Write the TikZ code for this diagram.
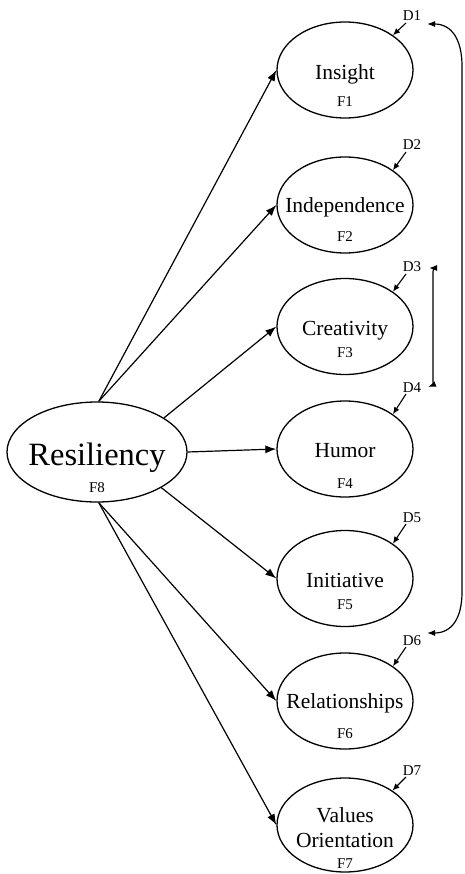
\documentclass[tikz,border=0pt]{standalone}
\usepackage{fontspec}
\setmainfont{Liberation Serif}
\usetikzlibrary{shapes.geometric,arrows.meta,calc}
\begin{document}
\begin{tikzpicture}[x=1pt,y=-1pt,
  lat/.style={ellipse,draw,line width=1.3pt,minimum width=136pt,minimum height=96pt,inner sep=0pt},
  big/.style={ellipse,draw,line width=1.3pt,minimum width=180pt,minimum height=100pt,inner sep=0pt},
  nm/.style={font=\fontsize{21.5}{24}\selectfont,inner sep=0pt,anchor=base},
  fl/.style={font=\fontsize{15}{17}\selectfont,inner sep=0pt,anchor=base},
  dl/.style={font=\fontsize{15}{17}\selectfont,inner sep=0pt,anchor=base},
  ar/.style={-{Latex[length=11pt,width=8pt]},line width=1.2pt},
  dar/.style={-{Latex[length=7pt,width=6pt]},line width=1.1pt},
  cor/.style={{Latex[length=8pt,width=6pt]}-{Latex[length=8pt,width=6pt]},line width=1.2pt}]
\useasboundingbox (0,0) rectangle (464,874);

% latent factors
\node[lat] (e1) at (345,70) {};
\node[lat] (e2) at (345,205) {};
\node[lat] (e3) at (345,326.5) {};
\node[lat] (e4) at (345,449) {};
\node[lat] (e5) at (345,578.5) {};
\node[lat] (e6) at (345,701) {};
\node[lat,minimum height=94pt] (e7) at (345,825) {};
\node[big] (res) at (97,452) {};

% texts
\node[nm] (t1) at (345,80) {Insight};
\node[fl] (f1) at (345,107) {F1};
\node[nm] (t2) at (345,213) {Independence};
\node[fl] (f2) at (345,242) {F2};
\node[nm] (t3) at (345,335) {Creativity};
\node[fl] (f3) at (345,357) {F3};
\node[nm] (t4) at (345,457) {Humor};
\node[fl] (f4) at (345,488) {F4};
\node[nm] (t5) at (345,587) {Initiative};
\node[fl] (f5) at (345,609) {F5};
\node[nm] (t6) at (345,708) {Relationships};
\node[fl] (f6) at (345,738) {F6};
\node[nm] (t7a) at (345,822) {Values};
\node[nm] (t7b) at (345,847) {Orientation};
\node[fl] (f7) at (345,868) {F7};
\node[font=\fontsize{32.5}{36}\selectfont,inner sep=0pt,anchor=base] (tr) at (97,465) {Resiliency};
\node[fl] (f8) at (97,492) {F8};

% disturbances
\node[dl] (d1) at (412,21) {D1};
\node[dl] (d2) at (412,150) {D2};
\node[dl] (d3) at (412,272) {D3};
\node[dl] (d4) at (412,392) {D4};
\node[dl] (d5) at (412,522) {D5};
\node[dl] (d6) at (412,645) {D6};
\node[dl] (d7) at (412,775) {D7};
\foreach \i in {1,...,7}{
  \draw[dar] ($(d\i.base)+(-6,2)$) -- (e\i.36);
}

% paths from Resiliency
\draw[ar] (res.88) -- (e1.west);
\draw[ar] (res.88) -- (e2.west);
\draw[ar] (res.27) -- (e3.west);
\draw[ar] (res.east) -- (e4.west);
\draw[ar] (res.-29) -- (e5.west);
\draw[ar] (res.-88) -- (e6.west);
\draw[ar] (res.-88) -- (e7.west);

% correlations
\coordinate (c1) at ($(d1.base)+(15,3)$);
\coordinate (c6) at ($(d6.base)+(15,-12)$);
\draw[cor] (c1) .. controls (452,24) and (462,40) .. (462,66) -- (462,592) .. controls (462,618) and (452,633) .. (c6);
\coordinate (c3) at ($(d3.base)+(17,-4)$);
\coordinate (c4) at ($(d4.base)+(16,-5)$);
\draw[cor] (c3) .. controls (433,268) .. (433,277) -- (433,378) .. controls (433,385) .. (c4);
\end{tikzpicture}
\end{document}
